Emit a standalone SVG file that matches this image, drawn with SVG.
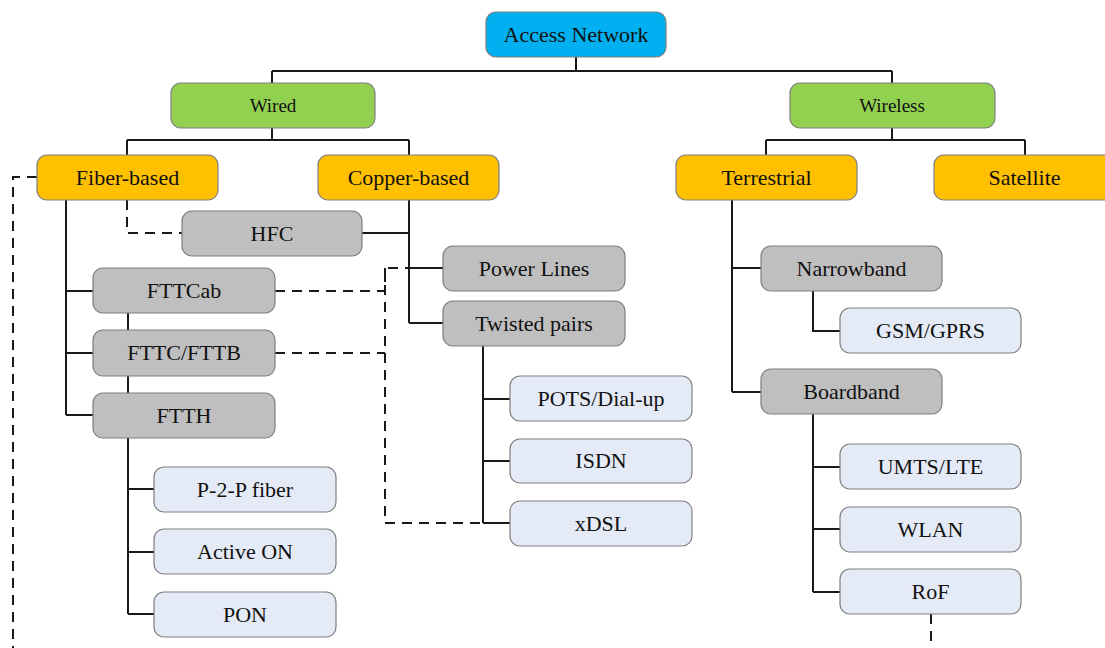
<svg xmlns="http://www.w3.org/2000/svg" width="1105" height="648" viewBox="0 0 1105 648">
<style>
.n rect{stroke:#7f7f7f;stroke-width:1.2}
.n text{font-family:"Liberation Serif","Times New Roman",serif;font-size:22px;fill:#111;text-anchor:middle;dominant-baseline:central}
.top rect{fill:#00B0F0}
.grn rect{fill:#92D050}
.org rect{fill:#FFC000}
.gry rect{fill:#BFBFBF}
.lb rect{fill:#E4EBF6}
.c path{fill:none;stroke:#1a1a1a;stroke-width:2}
.c path.d{stroke-dasharray:10,7}
</style>
<g class="c" id="connectors">
<path d="M576 57V71M272 71H892M272 71V83M892 71V83"/>
<path d="M272 128V140M127 140H409M127 140V155M409 140V155"/>
<path d="M892 128V140M766 140H1025M766 140V155M1025 140V155"/>
<path d="M66 200V415M66 291H93M66 353H93M66 415H93"/>
<path d="M128 313V330M128 376V393M128 438V614M128 489H154M128 552H154M128 614H154"/>
<path d="M409 200V323M362 233H409M409 268H443M409 323H443"/>
<path d="M483 346V523M483 399H510M483 461H510M483 523H510"/>
<path d="M732 200V392M732 268H761M732 392H761"/>
<path d="M813 291V331H840"/>
<path d="M813 414V592M813 467H840M813 529H840M813 592H840"/>
<path class="d" d="M127 200V233H182"/>
<path class="d" d="M37 177H13V648"/>
<path class="d" d="M275 291H385V268H409M275 353H385M385 268V523H483"/>
<path class="d" d="M931 614V648"/>
</g>
<g class="n top" id="access-network"><rect x="486" y="12" width="180" height="45" rx="10"/><text x="576" y="34">Access Network</text></g>
<g class="n grn" id="wired"><rect x="171" y="83" width="204" height="45" rx="10"/><text x="273" y="105" style="font-size:19px">Wired</text></g>
<g class="n grn" id="wireless"><rect x="790" y="83" width="205" height="45" rx="10"/><text x="892" y="105" style="font-size:19px">Wireless</text></g>
<g class="n org" id="fiber-based"><rect x="37" y="155" width="181" height="45" rx="10"/><text x="127.5" y="177">Fiber-based</text></g>
<g class="n org" id="copper-based"><rect x="318" y="155" width="181" height="45" rx="10"/><text x="408.5" y="177">Copper-based</text></g>
<g class="n org" id="terrestrial"><rect x="676" y="155" width="181" height="45" rx="10"/><text x="766.5" y="177">Terrestrial</text></g>
<g class="n org" id="satellite"><rect x="934" y="155" width="181" height="45" rx="10"/><text x="1024.5" y="177">Satellite</text></g>
<g class="n gry" id="hfc"><rect x="182" y="211" width="180" height="45" rx="10"/><text x="272" y="233">HFC</text></g>
<g class="n gry" id="fttcab"><rect x="93" y="268" width="182" height="45" rx="10"/><text x="184" y="290">FTTCab</text></g>
<g class="n gry" id="fttc-fttb"><rect x="93" y="330" width="182" height="46" rx="10"/><text x="184" y="352.5">FTTC/FTTB</text></g>
<g class="n gry" id="ftth"><rect x="93" y="393" width="182" height="45" rx="10"/><text x="184" y="415">FTTH</text></g>
<g class="n lb" id="p2p-fiber"><rect x="154" y="467" width="182" height="45" rx="10"/><text x="245" y="489">P-2-P fiber</text></g>
<g class="n lb" id="active-on"><rect x="154" y="529" width="182" height="45" rx="10"/><text x="245" y="551">Active ON</text></g>
<g class="n lb" id="pon"><rect x="154" y="592" width="182" height="45" rx="10"/><text x="245" y="614">PON</text></g>
<g class="n gry" id="power-lines"><rect x="443" y="246" width="182" height="45" rx="10"/><text x="534" y="268">Power Lines</text></g>
<g class="n gry" id="twisted-pairs"><rect x="443" y="301" width="182" height="45" rx="10"/><text x="534" y="323">Twisted pairs</text></g>
<g class="n lb" id="pots"><rect x="510" y="376" width="182" height="45" rx="10"/><text x="601" y="398">POTS/Dial-up</text></g>
<g class="n lb" id="isdn"><rect x="510" y="439" width="182" height="44" rx="10"/><text x="601" y="460.5">ISDN</text></g>
<g class="n lb" id="xdsl"><rect x="510" y="501" width="182" height="45" rx="10"/><text x="601" y="523">xDSL</text></g>
<g class="n gry" id="narrowband"><rect x="761" y="246" width="181" height="45" rx="10"/><text x="851.5" y="268">Narrowband</text></g>
<g class="n lb" id="gsm-gprs"><rect x="840" y="308" width="181" height="45" rx="10"/><text x="930.5" y="330">GSM/GPRS</text></g>
<g class="n gry" id="boardband"><rect x="761" y="369" width="181" height="45" rx="10"/><text x="851.5" y="391">Boardband</text></g>
<g class="n lb" id="umts-lte"><rect x="840" y="444" width="181" height="45" rx="10"/><text x="930.5" y="466">UMTS/LTE</text></g>
<g class="n lb" id="wlan"><rect x="840" y="507" width="181" height="45" rx="10"/><text x="930.5" y="529">WLAN</text></g>
<g class="n lb" id="rof"><rect x="840" y="569" width="181" height="45" rx="10"/><text x="930.5" y="591">RoF</text></g>
</svg>
